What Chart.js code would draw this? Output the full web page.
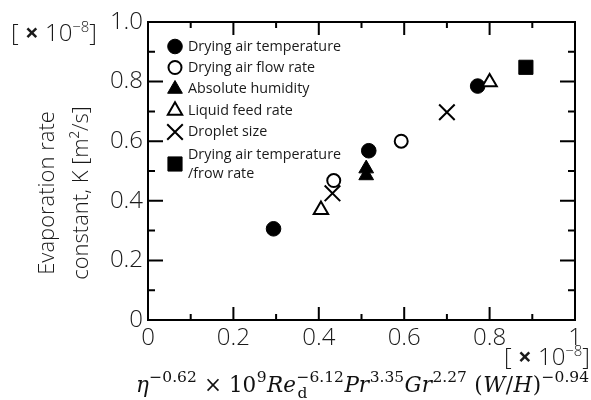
<!DOCTYPE html>
<html>
<head>
<meta charset="utf-8">
<script src="https://cdn.jsdelivr.net/npm/chart.js@4.4.1/dist/chart.umd.min.js"></script>
<style>
  html, body { margin: 0; padding: 0; background: #fff; }
  #wrap { width: 591px; height: 400px; position: relative; }
</style>
</head>
<body>
<div id="wrap"><canvas id="c" width="591" height="400"></canvas></div>
<script>
// ---- data ----
const seriesNames = [
  'Drying air temperature',
  'Drying air flow rate',
  'Absolute humidity',
  'Liquid feed rate',
  'Droplet size',
  'Drying air temperature\n/frow rate'
];
const dryTempX  = [0.294, 0.517, 0.772];
const dryTempY  = [0.306, 0.568, 0.785];
const airFlowX  = [0.435, 0.593];
const airFlowY  = [0.468, 0.600];
const humidityX = [0.511, 0.511];
const humidityY = [0.508, 0.485];
const feedX     = [0.405, 0.800];
const feedY     = [0.370, 0.798];
const dropX     = [0.432, 0.700];
const dropY     = [0.425, 0.697];
const comboX    = [0.885];
const comboY    = [0.848];
const xTicks = [0, 0.2, 0.4, 0.6, 0.8, 1];
const yTicks = [0, 0.2, 0.4, 0.6, 0.8, 1.0];
const xTickLabels = ['0', '0.2', '0.4', '0.6', '0.8', '1'];
const yTickLabels = ['0', '0.2', '0.4', '0.6', '0.8', '1.0'];
const yTitle = ['Evaporation rate', 'constant, K [m²/s]'];

const pts = (xs, ys) => xs.map((x, i) => ({x: x, y: ys[i]}));
const FONT = "'Open Sans', 'Noto Sans', sans-serif";
const TXT = '#1a1a1a';

const styles = [
  {pointStyle: 'circle',   radius: 7.3, bg: '#000', border: '#000', bw: 1,   order: 3},
  {pointStyle: 'circle',   radius: 6.5, bg: '#fff', border: '#000', bw: 2,   order: 2},
  {pointStyle: 'triangle', radius: 8.5, bg: '#000', border: '#000', bw: 1,   order: 4},
  {pointStyle: 'triangle', radius: 8.3, bg: '#fff', border: '#000', bw: 2,   order: 1},
  {pointStyle: 'crossRot', radius: 11,  bg: '#000', border: '#000', bw: 2,   order: 0},
  {pointStyle: 'rect',     radius: 10,  bg: '#000', border: '#000', bw: 1,   order: 5}
];
const dataSets = [pts(dryTempX, dryTempY), pts(airFlowX, airFlowY), pts(humidityX, humidityY),
                  pts(feedX, feedY), pts(dropX, dropY), pts(comboX, comboY)];

const datasets = dataSets.map((d, i) => ({
  label: seriesNames[i],
  data: d,
  pointStyle: styles[i].pointStyle,
  pointRadius: styles[i].radius,
  pointHoverRadius: styles[i].radius,
  pointBackgroundColor: styles[i].bg,
  pointBorderColor: styles[i].border,
  pointBorderWidth: styles[i].bw,
  showLine: false,
  order: styles[i].order
}));

const framePlugin = {
  id: 'frame',
  afterDatasetsDraw(chart) {
    const {ctx, chartArea: a, scales: {x, y}} = chart;
    ctx.save();
    ctx.strokeStyle = '#000';
    ctx.lineWidth = 2;
    ctx.lineCap = 'butt';
    ctx.strokeRect(a.left, a.top, a.right - a.left, a.bottom - a.top);
    for (let k = 1; k < 10; k++) {
      const v = k / 10;
      const major = k % 2 === 0;
      const px = x.getPixelForValue(v);
      const lx = major ? 13 : 6;
      ctx.beginPath();
      ctx.moveTo(px, a.bottom); ctx.lineTo(px, a.bottom - lx);
      ctx.moveTo(px, a.top); ctx.lineTo(px, a.top + lx);
      const py = y.getPixelForValue(v);
      const ly = major ? 15 : 7;
      ctx.moveTo(a.left, py); ctx.lineTo(a.left + ly, py);
      ctx.moveTo(a.right, py); ctx.lineTo(a.right - ly, py);
      ctx.stroke();
    }
    ctx.restore();
  },
  afterDraw(chart) {
    const {ctx} = chart;
    const H = Chart.helpers;

    // y-axis title (two rotated lines)
    ctx.save();
    ctx.fillStyle = TXT;
    ctx.font = "300 22px " + FONT;
    ctx.textAlign = 'center';
    ctx.textBaseline = 'alphabetic';
    const yc = 193;
    [54, 88].forEach((bx, i) => {
      ctx.save();
      ctx.translate(bx, yc);
      ctx.rotate(-Math.PI / 2);
      ctx.fillText(yTitle[i], 0, 0);
      ctx.restore();
    });
    ctx.restore();

    // legend inside plot
    ctx.save();
    const rows = [46.5, 67.5, 89, 110.5, 132, 164];
    const mx = 175;
    ctx.font = "400 14.3px " + FONT;
    ctx.textBaseline = 'middle';
    ctx.textAlign = 'left';
    seriesNames.forEach((name, i) => {
      const s = styles[i];
      ctx.fillStyle = s.bg; ctx.strokeStyle = s.border; ctx.lineWidth = s.bw;
      H.drawPoint(ctx, {pointStyle: s.pointStyle, radius: s.radius, borderWidth: s.bw}, mx, rows[i]);
      ctx.fillStyle = TXT;
      const lines = name.split('\n');
      if (lines.length === 1) ctx.fillText(lines[0], 188, rows[i]);
      else { ctx.fillText(lines[0], 188, rows[i] - 9.5); ctx.fillText(lines[1], 188, rows[i] + 9.5); }
    });
    ctx.restore();

    // unit labels [ × 10^-8 ]
    function unit(xRight, yMid, size) {
      ctx.save();
      ctx.textBaseline = 'alphabetic';
      ctx.fillStyle = TXT;
      const parts = [
        {t: '[ ', f: `300 ${size}px ${FONT}`, dy: 0},
        {t: '×', f: `700 ${size}px ${FONT}`, dy: 0},
        {t: ' 10', f: `300 ${size}px ${FONT}`, dy: 0},
        {t: '−8', f: `300 ${size * 0.62}px ${FONT}`, dy: -size * 0.38},
        {t: ']', f: `300 ${size}px ${FONT}`, dy: 0}
      ];
      let w = 0;
      parts.forEach(p => { ctx.font = p.f; p.w = ctx.measureText(p.t).width; w += p.w; });
      let cx = xRight - w;
      const base = yMid + size * 0.35;
      parts.forEach(p => { ctx.font = p.f; ctx.fillText(p.t, cx, base + p.dy); cx += p.w; });
      ctx.restore();
    }
    unit(97, 33, 24);
    unit(590, 357, 24);

    // x-axis formula
    ctx.save();
    ctx.fillStyle = '#111';
    ctx.textBaseline = 'alphabetic';
    const SER = "'DejaVu Serif', 'Liberation Serif', serif";
    const K = 0.72, UP = -0.45;
    const segs = [
      {t: 'η', it: 1, k: 1, dy: 0},
      {t: '−0.62', it: 0, k: K, dy: UP},
      {t: ' × 10', it: 0, k: 1, dy: 0},
      {t: '9', it: 0, k: K, dy: UP},
      {t: 'Re', it: 1, k: 1, dy: 0},
      {t: '−6.12', it: 0, k: K, dy: UP, sub: 'd'},
      {t: 'Pr', it: 1, k: 1, dy: 0},
      {t: '3.35', it: 0, k: K, dy: UP},
      {t: 'Gr', it: 1, k: 1, dy: 0},
      {t: '2.27', it: 0, k: K, dy: UP},
      {t: ' (', it: 0, k: 1, dy: 0},
      {t: 'W', it: 1, k: 1, dy: 0},
      {t: '/', it: 0, k: 1, dy: 0},
      {t: 'H', it: 1, k: 1, dy: 0},
      {t: ')', it: 0, k: 1, dy: 0},
      {t: '−0.94', it: 0, k: K, dy: UP}
    ];
    const x0 = 136, x1 = 590;
    const fnt = (sg, S) => `${sg.it ? 'italic ' : ''}${(sg.k * S).toFixed(2)}px ${SER}`;
    const width = S => { let t = 0; segs.forEach(sg => { ctx.font = fnt(sg, S); t += ctx.measureText(sg.t).width + 0.5; }); return t; };
    const S = 20 * (x1 - x0) / width(20);
    let cx = x0;
    const base = 392;
    segs.forEach(sg => {
      ctx.font = fnt(sg, S);
      ctx.fillText(sg.t, cx, base + sg.dy * S);
      if (sg.sub) { ctx.font = `${(K * S).toFixed(2)}px ${SER}`; ctx.fillText(sg.sub, cx + 1, base + 0.3 * S); ctx.font = fnt(sg, S); }
      cx += ctx.measureText(sg.t).width + 0.5;
    });
    ctx.restore();
  }
};

new Chart(document.getElementById('c'), {
  type: 'scatter',
  data: { datasets },
  options: {
    responsive: false,
    animation: false,
    events: [],
    layout: { padding: { left: 0, right: 16, top: 22, bottom: 0 } },
    plugins: { legend: { display: false }, tooltip: { enabled: false } },
    scales: {
      x: {
        type: 'linear', min: 0, max: 1,
        afterFit: s => { s.height = 80; },
        afterBuildTicks: s => { s.ticks = xTicks.map(v => ({value: v})); },
        grid: { display: false, drawTicks: false },
        border: { display: false },
        ticks: {
          padding: 4, color: TXT, maxRotation: 0, autoSkip: false,
          font: { family: FONT, size: 24, weight: '300' },
          callback: (v) => xTickLabels[xTicks.indexOf(v)]
        }
      },
      y: {
        type: 'linear', min: 0, max: 1,
        afterFit: s => { s.width = 148; },
        afterBuildTicks: s => { s.ticks = yTicks.map(v => ({value: v})); },
        grid: { display: false, drawTicks: false },
        border: { display: false },
        ticks: {
          padding: 5, color: TXT, autoSkip: false,
          font: { family: FONT, size: 24, weight: '300' },
          callback: (v) => yTickLabels[yTicks.indexOf(v)]
        }
      }
    }
  },
  plugins: [framePlugin]
});
</script>
</body>
</html>
